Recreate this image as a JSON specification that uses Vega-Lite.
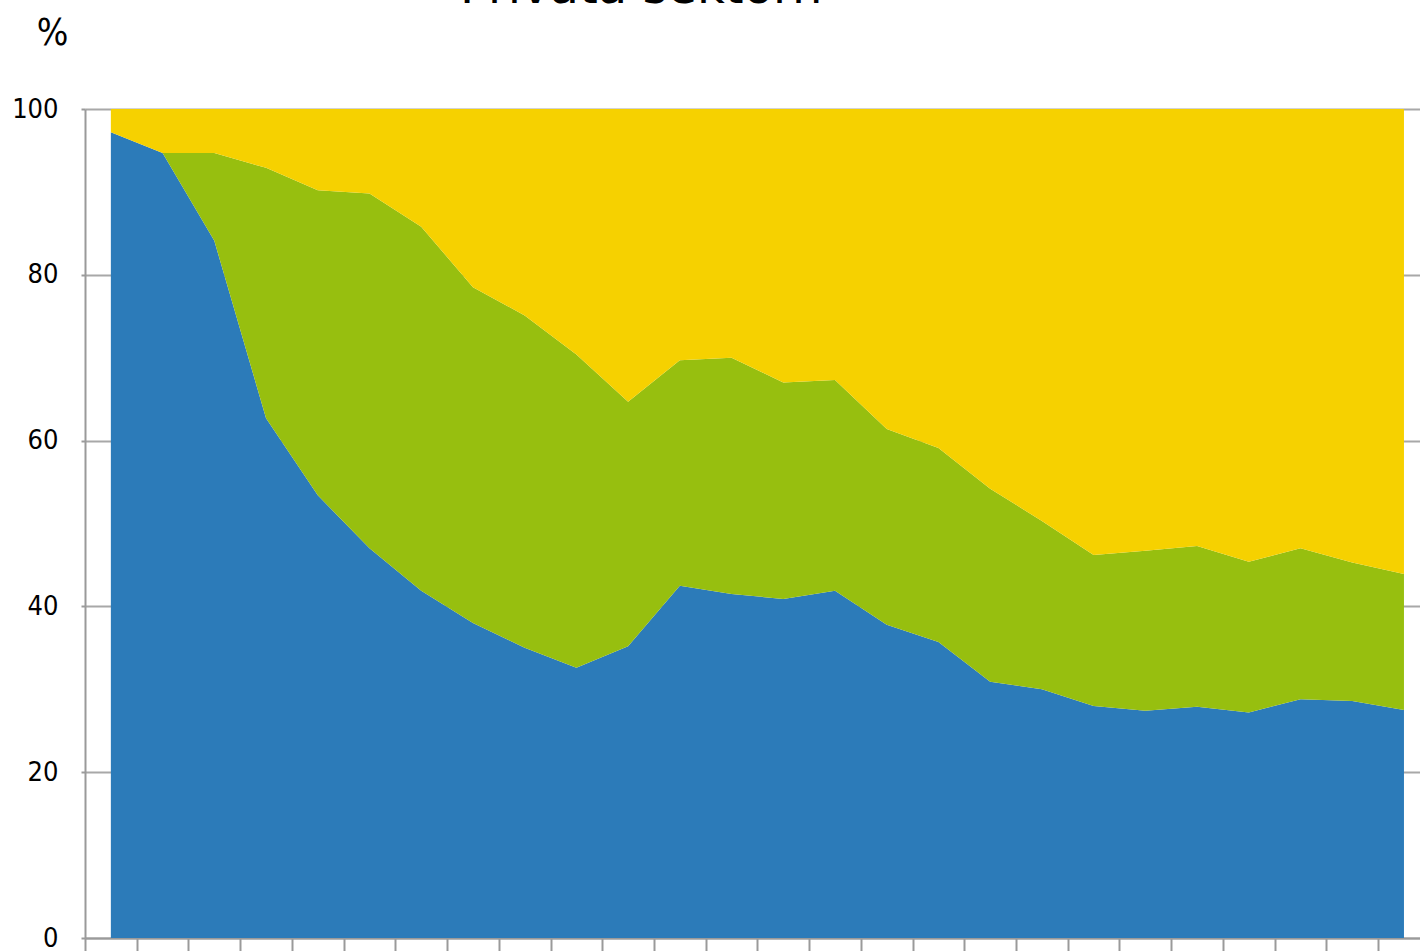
{
  "$schema": "https://vega.github.io/schema/vega-lite/v6.json",
  "width": 1335,
  "height": 829,
  "autosize": {"type": "none"},
  "padding": {"left": 85, "top": 109, "right": 0, "bottom": 13},
  "background": "white",
  "title": {
    "text": "Privata sektorn",
    "anchor": "start",
    "frame": "group",
    "dx": 375,
    "offset": -37,
    "baseline": "alphabetic",
    "font": "DejaVu Sans",
    "fontSize": 48,
    "fontWeight": "normal",
    "color": "#000000"
  },
  "config": {
    "view": {"stroke": null},
    "font": "DejaVu Sans Condensed"
  },
  "data": {
    "values": [
      {"år": 1990, "serie": "Serie 1", "o": 1, "andel": 97.2},
      {"år": 1990, "serie": "Serie 2", "o": 2, "andel": 0},
      {"år": 1990, "serie": "Serie 3", "o": 3, "andel": 2.8},
      {"år": 1991, "serie": "Serie 1", "o": 1, "andel": 94.7},
      {"år": 1991, "serie": "Serie 2", "o": 2, "andel": 0},
      {"år": 1991, "serie": "Serie 3", "o": 3, "andel": 5.3},
      {"år": 1992, "serie": "Serie 1", "o": 1, "andel": 84.1},
      {"år": 1992, "serie": "Serie 2", "o": 2, "andel": 10.6},
      {"år": 1992, "serie": "Serie 3", "o": 3, "andel": 5.3},
      {"år": 1993, "serie": "Serie 1", "o": 1, "andel": 62.7},
      {"år": 1993, "serie": "Serie 2", "o": 2, "andel": 30.2},
      {"år": 1993, "serie": "Serie 3", "o": 3, "andel": 7.1},
      {"år": 1994, "serie": "Serie 1", "o": 1, "andel": 53.4},
      {"år": 1994, "serie": "Serie 2", "o": 2, "andel": 36.8},
      {"år": 1994, "serie": "Serie 3", "o": 3, "andel": 9.8},
      {"år": 1995, "serie": "Serie 1", "o": 1, "andel": 47.0},
      {"år": 1995, "serie": "Serie 2", "o": 2, "andel": 42.8},
      {"år": 1995, "serie": "Serie 3", "o": 3, "andel": 10.2},
      {"år": 1996, "serie": "Serie 1", "o": 1, "andel": 41.9},
      {"år": 1996, "serie": "Serie 2", "o": 2, "andel": 43.9},
      {"år": 1996, "serie": "Serie 3", "o": 3, "andel": 14.2},
      {"år": 1997, "serie": "Serie 1", "o": 1, "andel": 38.0},
      {"år": 1997, "serie": "Serie 2", "o": 2, "andel": 40.5},
      {"år": 1997, "serie": "Serie 3", "o": 3, "andel": 21.5},
      {"år": 1998, "serie": "Serie 1", "o": 1, "andel": 35.0},
      {"år": 1998, "serie": "Serie 2", "o": 2, "andel": 40.1},
      {"år": 1998, "serie": "Serie 3", "o": 3, "andel": 24.9},
      {"år": 1999, "serie": "Serie 1", "o": 1, "andel": 32.6},
      {"år": 1999, "serie": "Serie 2", "o": 2, "andel": 37.8},
      {"år": 1999, "serie": "Serie 3", "o": 3, "andel": 29.6},
      {"år": 2000, "serie": "Serie 1", "o": 1, "andel": 35.2},
      {"år": 2000, "serie": "Serie 2", "o": 2, "andel": 29.5},
      {"år": 2000, "serie": "Serie 3", "o": 3, "andel": 35.3},
      {"år": 2001, "serie": "Serie 1", "o": 1, "andel": 42.5},
      {"år": 2001, "serie": "Serie 2", "o": 2, "andel": 27.2},
      {"år": 2001, "serie": "Serie 3", "o": 3, "andel": 30.3},
      {"år": 2002, "serie": "Serie 1", "o": 1, "andel": 41.5},
      {"år": 2002, "serie": "Serie 2", "o": 2, "andel": 28.5},
      {"år": 2002, "serie": "Serie 3", "o": 3, "andel": 30.0},
      {"år": 2003, "serie": "Serie 1", "o": 1, "andel": 40.9},
      {"år": 2003, "serie": "Serie 2", "o": 2, "andel": 26.1},
      {"år": 2003, "serie": "Serie 3", "o": 3, "andel": 33.0},
      {"år": 2004, "serie": "Serie 1", "o": 1, "andel": 41.9},
      {"år": 2004, "serie": "Serie 2", "o": 2, "andel": 25.4},
      {"år": 2004, "serie": "Serie 3", "o": 3, "andel": 32.7},
      {"år": 2005, "serie": "Serie 1", "o": 1, "andel": 37.8},
      {"år": 2005, "serie": "Serie 2", "o": 2, "andel": 23.6},
      {"år": 2005, "serie": "Serie 3", "o": 3, "andel": 38.6},
      {"år": 2006, "serie": "Serie 1", "o": 1, "andel": 35.7},
      {"år": 2006, "serie": "Serie 2", "o": 2, "andel": 23.4},
      {"år": 2006, "serie": "Serie 3", "o": 3, "andel": 40.9},
      {"år": 2007, "serie": "Serie 1", "o": 1, "andel": 30.9},
      {"år": 2007, "serie": "Serie 2", "o": 2, "andel": 23.3},
      {"år": 2007, "serie": "Serie 3", "o": 3, "andel": 45.8},
      {"år": 2008, "serie": "Serie 1", "o": 1, "andel": 30.0},
      {"år": 2008, "serie": "Serie 2", "o": 2, "andel": 20.3},
      {"år": 2008, "serie": "Serie 3", "o": 3, "andel": 49.7},
      {"år": 2009, "serie": "Serie 1", "o": 1, "andel": 28.0},
      {"år": 2009, "serie": "Serie 2", "o": 2, "andel": 18.2},
      {"år": 2009, "serie": "Serie 3", "o": 3, "andel": 53.8},
      {"år": 2010, "serie": "Serie 1", "o": 1, "andel": 27.4},
      {"år": 2010, "serie": "Serie 2", "o": 2, "andel": 19.3},
      {"år": 2010, "serie": "Serie 3", "o": 3, "andel": 53.3},
      {"år": 2011, "serie": "Serie 1", "o": 1, "andel": 27.9},
      {"år": 2011, "serie": "Serie 2", "o": 2, "andel": 19.4},
      {"år": 2011, "serie": "Serie 3", "o": 3, "andel": 52.7},
      {"år": 2012, "serie": "Serie 1", "o": 1, "andel": 27.2},
      {"år": 2012, "serie": "Serie 2", "o": 2, "andel": 18.2},
      {"år": 2012, "serie": "Serie 3", "o": 3, "andel": 54.6},
      {"år": 2013, "serie": "Serie 1", "o": 1, "andel": 28.8},
      {"år": 2013, "serie": "Serie 2", "o": 2, "andel": 18.2},
      {"år": 2013, "serie": "Serie 3", "o": 3, "andel": 53.0},
      {"år": 2014, "serie": "Serie 1", "o": 1, "andel": 28.6},
      {"år": 2014, "serie": "Serie 2", "o": 2, "andel": 16.7},
      {"år": 2014, "serie": "Serie 3", "o": 3, "andel": 54.7},
      {"år": 2015, "serie": "Serie 1", "o": 1, "andel": 27.5},
      {"år": 2015, "serie": "Serie 2", "o": 2, "andel": 16.4},
      {"år": 2015, "serie": "Serie 3", "o": 3, "andel": 56.1}
    ]
  },
  "mark": {"type": "area", "interpolate": "linear", "opacity": 1},
  "encoding": {
    "x": {
      "field": "år",
      "type": "quantitative",
      "scale": {"domain": [1989.5, 2015.31], "nice": false, "zero": false},
      "axis": {
        "title": null,
        "labels": false,
        "grid": false,
        "values": [1989.5, 1990.5, 1991.5, 1992.5, 1993.5, 1994.5, 1995.5, 1996.5, 1997.5, 1998.5, 1999.5, 2000.5, 2001.5, 2002.5, 2003.5, 2004.5, 2005.5, 2006.5, 2007.5, 2008.5, 2009.5, 2010.5, 2011.5, 2012.5, 2013.5, 2014.5],
        "tickSize": 16,
        "tickColor": "#9a9a9a",
        "tickWidth": 2,
        "domainColor": "#9a9a9a",
        "domainWidth": 2
      }
    },
    "y": {
      "field": "andel",
      "type": "quantitative",
      "stack": "zero",
      "scale": {"domain": [0, 100], "nice": false},
      "axis": {
        "values": [0, 20, 40, 60, 80, 100],
        "title": "%",
        "titleAngle": 0,
        "titleX": -33,
        "titleY": -65,
        "titleAlign": "center",
        "titleBaseline": "alphabetic",
        "titleFont": "DejaVu Sans Condensed",
        "titleFontSize": 37,
        "titleFontWeight": "normal",
        "titleColor": "#000000",
        "labelFont": "DejaVu Sans Condensed",
        "labelFontSize": 27,
        "labelColor": "#000000",
        "labelPadding": 23,
        "tickSize": 4,
        "tickColor": "#9a9a9a",
        "tickWidth": 2,
        "domainColor": "#9a9a9a",
        "domainWidth": 2,
        "grid": true,
        "gridColor": "#a8a8a8",
        "gridWidth": 2
      }
    },
    "color": {
      "field": "serie",
      "type": "nominal",
      "scale": {"domain": ["Serie 1", "Serie 2", "Serie 3"], "range": ["#2c7bb9", "#97bf0f", "#f6d100"]},
      "legend": null
    },
    "order": {"field": "o", "type": "quantitative", "sort": "ascending"}
  }
}
